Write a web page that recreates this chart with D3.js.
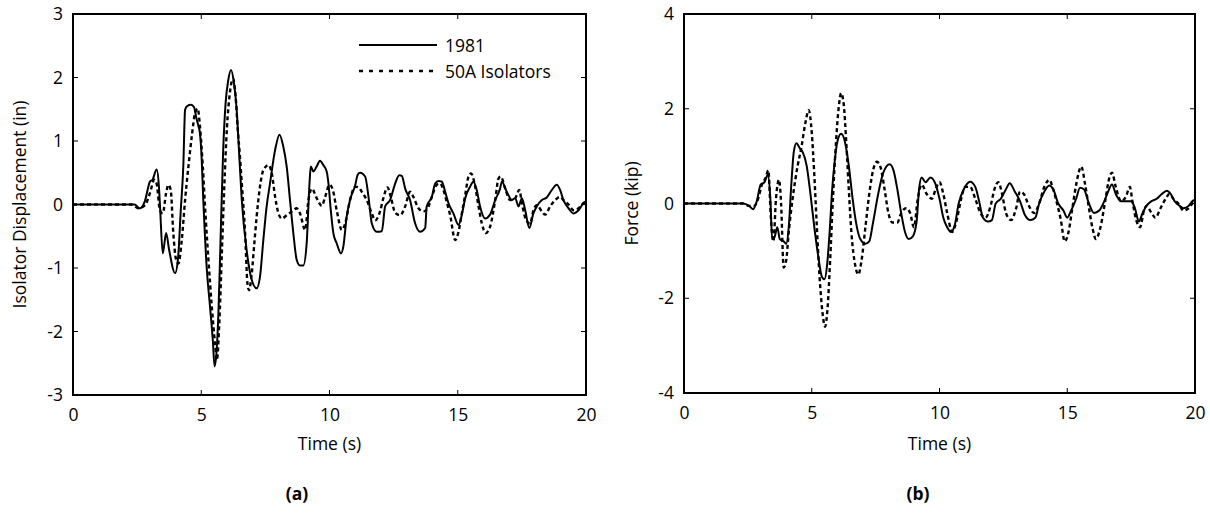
<!DOCTYPE html>
<html>
<head>
<meta charset="utf-8">
<script src="https://cdn.jsdelivr.net/npm/d3@7"></script>
<style>
  body { margin: 0; background: #fff; }
  svg { display: block; }
  text { font-family: "Open Sans", "Liberation Sans", sans-serif; fill: #000; }
</style>
</head>
<body>
<svg id="chart" width="1210" height="514"></svg>
<script>
// ---------- data ----------
const xTicks = [0, 5, 10, 15, 20];
const dispTicks = [-3, -2, -1, 0, 1, 2, 3];
const forceTicks = [-4, -2, 0, 2, 4];
const seriesNames = ["1981", "50A Isolators"];

// Panel (a): isolator displacement (in) vs time (s)
const disp1981 = [[0,0],[2.4,0],[2.6,-0.06],[2.8,0.05],[3.0,0.36],[3.1,0.39],[3.26,0.55],[3.35,0.28],[3.4,-0.09],[3.5,-0.77],[3.63,-0.45],[3.75,-0.72],[3.98,-1.08],[4.1,-0.82],[4.2,-0.1],[4.3,0.6],[4.37,1.49],[4.45,1.55],[4.6,1.57],[4.72,1.53],[4.8,1.38],[4.88,1.25],[4.95,1.12],[5.0,0.86],[5.08,0.07],[5.21,-0.98],[5.34,-1.6],[5.45,-2.13],[5.52,-2.55],[5.6,-2.3],[5.67,-1.7],[5.75,-0.6],[5.85,0.8],[5.95,1.6],[6.05,1.95],[6.16,2.12],[6.28,1.9],[6.38,1.5],[6.47,0.86],[6.58,0.07],[6.77,-0.72],[6.97,-1.19],[7.16,-1.32],[7.29,-1.14],[7.42,-0.56],[7.55,-0.03],[7.68,0.33],[7.88,0.86],[8.05,1.1],[8.2,0.91],[8.33,0.6],[8.46,0.07],[8.59,-0.45],[8.72,-0.87],[8.85,-0.96],[8.98,-0.96],[9.11,-0.61],[9.22,0.33],[9.27,0.6],[9.37,0.52],[9.5,0.6],[9.63,0.69],[9.76,0.62],[9.89,0.52],[9.96,0.33],[10.05,-0.09],[10.15,-0.45],[10.28,-0.61],[10.45,-0.77],[10.54,-0.66],[10.67,-0.19],[10.8,0.07],[11.0,0.3],[11.1,0.47],[11.19,0.5],[11.39,0.44],[11.52,0.12],[11.65,-0.3],[11.84,-0.43],[12.04,-0.42],[12.17,-0.03],[12.36,0.07],[12.56,0.33],[12.72,0.46],[12.82,0.45],[12.95,0.25],[13.14,0.07],[13.34,-0.3],[13.53,-0.43],[13.73,-0.37],[13.79,-0.03],[13.99,0.12],[14.12,0.33],[14.25,0.37],[14.38,0.36],[14.51,0.2],[14.64,0.02],[14.83,-0.14],[15.03,-0.32],[15.16,-0.16],[15.29,0.1],[15.48,0.28],[15.61,0.36],[15.74,0.23],[15.87,-0.03],[16.07,-0.22],[16.26,-0.16],[16.46,0.07],[16.65,0.25],[16.72,0.36],[16.91,0.2],[17.11,0.07],[17.24,0.1],[17.37,-0.03],[17.5,0.1],[17.63,-0.09],[17.79,-0.37],[17.95,-0.14],[18.08,-0.03],[18.28,0.07],[18.47,0.11],[18.67,0.23],[18.86,0.31],[18.99,0.23],[19.12,0.07],[19.32,-0.06],[19.51,-0.14],[19.71,-0.09],[19.9,0.02],[20,0.05]];
const disp50A = [[0,0],[2.3,0],[2.55,-0.06],[2.81,-0.01],[3.0,0.18],[3.17,0.39],[3.26,0.33],[3.39,-0.09],[3.5,-0.14],[3.63,0.18],[3.72,0.31],[3.81,0.23],[3.91,-0.45],[4.02,-0.87],[4.11,-0.93],[4.24,-0.56],[4.37,0.07],[4.5,0.6],[4.63,1.07],[4.76,1.44],[4.86,1.51],[4.95,1.23],[5.06,0.6],[5.17,-0.19],[5.28,-0.87],[5.41,-1.6],[5.54,-2.2],[5.61,-2.45],[5.7,-1.9],[5.8,-0.8],[5.9,0.3],[6.0,1.2],[6.1,1.7],[6.24,1.98],[6.34,1.7],[6.42,1.2],[6.5,0.8],[6.58,0.33],[6.71,-0.45],[6.8,-1.24],[6.86,-1.35],[6.97,-1.08],[7.07,-0.61],[7.16,-0.19],[7.29,0.28],[7.42,0.54],[7.62,0.62],[7.75,0.49],[7.88,0.12],[8.01,-0.14],[8.14,-0.22],[8.33,-0.17],[8.53,-0.11],[8.72,-0.06],[8.85,-0.14],[9.05,-0.4],[9.18,0.07],[9.31,0.25],[9.5,0.1],[9.7,-0.02],[9.83,0.12],[10.0,0.31],[10.13,0.23],[10.28,-0.09],[10.48,-0.4],[10.61,-0.3],[10.8,0.07],[11.0,0.28],[11.13,0.27],[11.26,0.2],[11.45,0.07],[11.65,-0.14],[11.78,-0.25],[11.97,-0.11],[12.1,0.1],[12.26,0.27],[12.39,0.12],[12.56,-0.13],[12.75,-0.17],[12.95,-0.03],[13.14,0.2],[13.27,0.12],[13.47,-0.06],[13.66,-0.11],[13.86,-0.03],[13.99,0.12],[14.18,0.31],[14.31,0.33],[14.44,0.23],[14.57,0.04],[14.7,-0.16],[14.9,-0.56],[15.03,-0.43],[15.16,-0.14],[15.29,0.15],[15.42,0.44],[15.52,0.49],[15.68,0.28],[15.81,-0.03],[15.94,-0.3],[16.09,-0.45],[16.26,-0.35],[16.46,0.07],[16.59,0.41],[16.68,0.44],[16.85,0.25],[17.04,0.07],[17.24,0.1],[17.4,0.23],[17.5,0.02],[17.66,-0.24],[17.82,-0.3],[17.95,-0.09],[18.08,-0.01],[18.28,-0.11],[18.41,-0.16],[18.6,-0.03],[18.8,0.07],[18.99,0.12],[19.12,0.07],[19.32,0.0],[19.51,-0.09],[19.71,-0.06],[19.9,0.02],[20,0.05]];

// Panel (b): force (kip) vs time (s)
const force1981 = [[0,0],[2.3,0],[2.55,-0.05],[2.7,-0.12],[2.85,0.05],[3.0,0.4],[3.15,0.45],[3.28,0.6],[3.38,0.1],[3.45,-0.75],[3.55,-0.7],[3.65,-0.5],[3.75,-0.75],[3.9,-0.8],[4.0,-0.85],[4.1,-0.5],[4.2,0.4],[4.3,1.1],[4.4,1.27],[4.55,1.15],[4.65,1.08],[4.8,0.8],[4.95,0.2],[5.1,-0.5],[5.25,-1.1],[5.4,-1.55],[5.5,-1.6],[5.6,-1.3],[5.7,-0.6],[5.8,0.3],[5.9,0.9],[6.0,1.3],[6.15,1.47],[6.3,1.3],[6.45,0.8],[6.6,0.1],[6.75,-0.45],[6.9,-0.75],[7.1,-0.85],[7.25,-0.8],[7.4,-0.4],[7.6,0.2],[7.8,0.65],[8.05,0.83],[8.2,0.7],[8.35,0.3],[8.5,-0.2],[8.65,-0.6],[8.8,-0.75],[8.95,-0.7],[9.1,-0.4],[9.2,0.3],[9.3,0.55],[9.45,0.45],[9.65,0.55],[9.85,0.4],[10.0,0.1],[10.15,-0.3],[10.3,-0.5],[10.45,-0.6],[10.6,-0.45],[10.75,0.0],[10.95,0.3],[11.2,0.46],[11.4,0.35],[11.55,0.05],[11.7,-0.3],[11.9,-0.38],[12.05,-0.35],[12.2,0.0],[12.4,0.1],[12.6,0.3],[12.75,0.43],[12.95,0.25],[13.15,0.05],[13.35,-0.25],[13.55,-0.35],[13.75,-0.3],[13.9,0.0],[14.1,0.25],[14.3,0.38],[14.45,0.3],[14.65,0.0],[14.85,-0.15],[15.0,-0.3],[15.15,-0.15],[15.35,0.1],[15.5,0.33],[15.65,0.3],[15.85,0.0],[16.05,-0.2],[16.25,-0.15],[16.45,0.05],[16.6,0.25],[16.75,0.4],[16.9,0.2],[17.1,0.05],[17.3,0.05],[17.5,0.05],[17.65,-0.1],[17.8,-0.38],[17.95,-0.2],[18.1,-0.05],[18.3,0.05],[18.5,0.1],[18.7,0.2],[18.9,0.27],[19.05,0.2],[19.2,0.05],[19.4,-0.05],[19.55,-0.1],[19.75,-0.05],[19.9,0.05],[20,0.08]];
const force50A = [[0,0],[2.3,0],[2.55,-0.05],[2.75,-0.05],[2.9,0.1],[3.05,0.4],[3.2,0.55],[3.3,0.7],[3.4,-0.3],[3.5,-0.8],[3.6,0.1],[3.72,0.5],[3.8,0.0],[3.9,-1.35],[4.0,-1.2],[4.1,-0.6],[4.25,0.1],[4.45,0.8],[4.6,1.2],[4.75,1.7],[4.88,1.97],[5.0,1.5],[5.1,0.6],[5.2,-0.5],[5.3,-1.5],[5.42,-2.3],[5.52,-2.6],[5.62,-2.2],[5.72,-1.2],[5.82,0.0],[5.95,1.3],[6.05,2.0],[6.15,2.33],[6.25,2.1],[6.35,1.3],[6.45,0.3],[6.55,-0.6],[6.7,-1.3],[6.82,-1.5],[6.95,-1.2],[7.1,-0.5],[7.25,0.2],[7.4,0.7],[7.55,0.88],[7.7,0.75],[7.85,0.3],[8.0,-0.2],[8.15,-0.4],[8.35,-0.4],[8.5,-0.2],[8.7,-0.1],[8.85,-0.2],[9.0,-0.5],[9.15,0.1],[9.3,0.4],[9.5,0.2],[9.7,0.1],[9.85,0.3],[10.0,0.45],[10.15,0.2],[10.3,-0.2],[10.5,-0.6],[10.65,-0.4],[10.85,0.1],[11.0,0.35],[11.2,0.35],[11.4,0.1],[11.6,-0.2],[11.8,-0.3],[12.0,-0.05],[12.15,0.3],[12.3,0.45],[12.45,0.2],[12.6,-0.2],[12.8,-0.35],[13.0,-0.1],[13.15,0.25],[13.3,0.2],[13.5,-0.05],[13.7,-0.2],[13.9,0.0],[14.1,0.35],[14.3,0.5],[14.45,0.3],[14.6,0.0],[14.75,-0.35],[14.9,-0.8],[15.05,-0.6],[15.2,-0.1],[15.35,0.4],[15.55,0.78],[15.7,0.4],[15.85,-0.1],[16.0,-0.55],[16.12,-0.75],[16.3,-0.5],[16.5,0.1],[16.65,0.55],[16.75,0.65],[16.9,0.35],[17.1,0.05],[17.3,0.15],[17.45,0.35],[17.55,0.05],[17.7,-0.35],[17.85,-0.5],[18.0,-0.15],[18.1,-0.05],[18.3,-0.2],[18.45,-0.3],[18.65,-0.1],[18.85,0.1],[19.0,0.2],[19.15,0.1],[19.35,0.0],[19.55,-0.15],[19.75,-0.1],[19.9,0.0],[20,0.05]];

// ---------- drawing ----------
const svg = d3.select("#chart");
const FS = "17.5px";
const fmt = d => String(d);   // plain hyphen-minus, integers

function panel(opts) {
  const {left, right, top, bottom, yDomain, yTicks, yLabel, label, labelX, s1, s2, legend, yTitleX} = opts;
  const x = d3.scaleLinear().domain([0, 20]).range([left, right]);
  const y = d3.scaleLinear().domain(yDomain).range([bottom, top]);
  const g = svg.append("g");

  const tickLen = 5;
  const axB = d3.axisBottom(x).tickValues(xTicks).tickFormat(fmt).tickSize(0).tickPadding(14);
  const gb = g.append("g").attr("transform", `translate(0,${bottom})`).call(axB);
  gb.select(".domain").remove();
  gb.selectAll("text").style("font-size", FS).attr("fill", "#000");

  const axL = d3.axisLeft(y).tickValues(yTicks).tickFormat(fmt).tickSize(0).tickPadding(10);
  const gl = g.append("g").attr("transform", `translate(${left},0)`).call(axL);
  gl.select(".domain").remove();
  gl.selectAll("text").style("font-size", FS).attr("fill", "#000");

  // inward tick marks on all four sides
  const inner = xTicks.slice(1, -1);
  g.selectAll(".tb").data(inner).join("line")
    .attr("x1", d => x(d)).attr("x2", d => x(d))
    .attr("y1", bottom).attr("y2", bottom - tickLen)
    .attr("stroke", "#000").attr("stroke-width", 1);
  g.selectAll(".tt").data(inner).join("line")
    .attr("x1", d => x(d)).attr("x2", d => x(d))
    .attr("y1", top).attr("y2", top + tickLen)
    .attr("stroke", "#000").attr("stroke-width", 1);
  const innerY = yTicks.slice(1, -1);
  g.selectAll(".tl").data(innerY).join("line")
    .attr("x1", left).attr("x2", left + tickLen)
    .attr("y1", d => y(d)).attr("y2", d => y(d))
    .attr("stroke", "#000").attr("stroke-width", 1);
  g.selectAll(".tr").data(innerY).join("line")
    .attr("x1", right).attr("x2", right - tickLen)
    .attr("y1", d => y(d)).attr("y2", d => y(d))
    .attr("stroke", "#000").attr("stroke-width", 1);

  const line = d3.line().x(d => x(d[0])).y(d => y(d[1])).curve(d3.curveMonotoneX);

  g.append("path").datum(s2).attr("d", line)
    .attr("fill", "none").attr("stroke", "#000").attr("stroke-width", 2.4)
    .attr("stroke-dasharray", "4,3");
  g.append("path").datum(s1).attr("d", line)
    .attr("fill", "none").attr("stroke", "#000").attr("stroke-width", 2);

  // frame
  g.append("rect").attr("x", left).attr("y", top)
    .attr("width", right - left).attr("height", bottom - top)
    .attr("fill", "none").attr("stroke", "#000").attr("stroke-width", 2);

  // titles
  g.append("text").attr("x", (left + right) / 2).attr("y", 450)
    .attr("text-anchor", "middle").style("font-size", FS).text("Time (s)");
  g.append("text")
    .attr("transform", `translate(${yTitleX},${(top + bottom) / 2}) rotate(-90)`)
    .attr("text-anchor", "middle").attr("dominant-baseline", "central")
    .style("font-size", FS).text(yLabel);
  g.append("text").attr("x", labelX).attr("y", 500)
    .attr("text-anchor", "middle").style("font-size", FS).style("font-weight", "bold")
    .text(label);

  if (legend) {
    const lx1 = 359, lx2 = 437, ly = [45, 71];
    g.append("line").attr("x1", lx1).attr("x2", lx2).attr("y1", ly[0]).attr("y2", ly[0])
      .attr("stroke", "#000").attr("stroke-width", 2);
    g.append("line").attr("x1", lx1).attr("x2", lx2).attr("y1", ly[1]).attr("y2", ly[1])
      .attr("stroke", "#000").attr("stroke-width", 2.4).attr("stroke-dasharray", "4,6");
    seriesNames.forEach((n, i) => {
      g.append("text").attr("x", lx2 + 8).attr("y", ly[i])
        .attr("dominant-baseline", "central").style("font-size", FS).text(n);
    });
  }
}

panel({left: 73, right: 586, top: 14, bottom: 395, yDomain: [-3, 3], yTicks: dispTicks,
  yLabel: "Isolator Displacement (in)", label: "(a)", labelX: 297, s1: disp1981, s2: disp50A,
  legend: true, yTitleX: 19});
panel({left: 684, right: 1195, top: 14, bottom: 393, yDomain: [-4, 4], yTicks: forceTicks,
  yLabel: "Force (kip)", label: "(b)", labelX: 918, s1: force1981, s2: force50A,
  legend: false, yTitleX: 631});
</script>
</body>
</html>
